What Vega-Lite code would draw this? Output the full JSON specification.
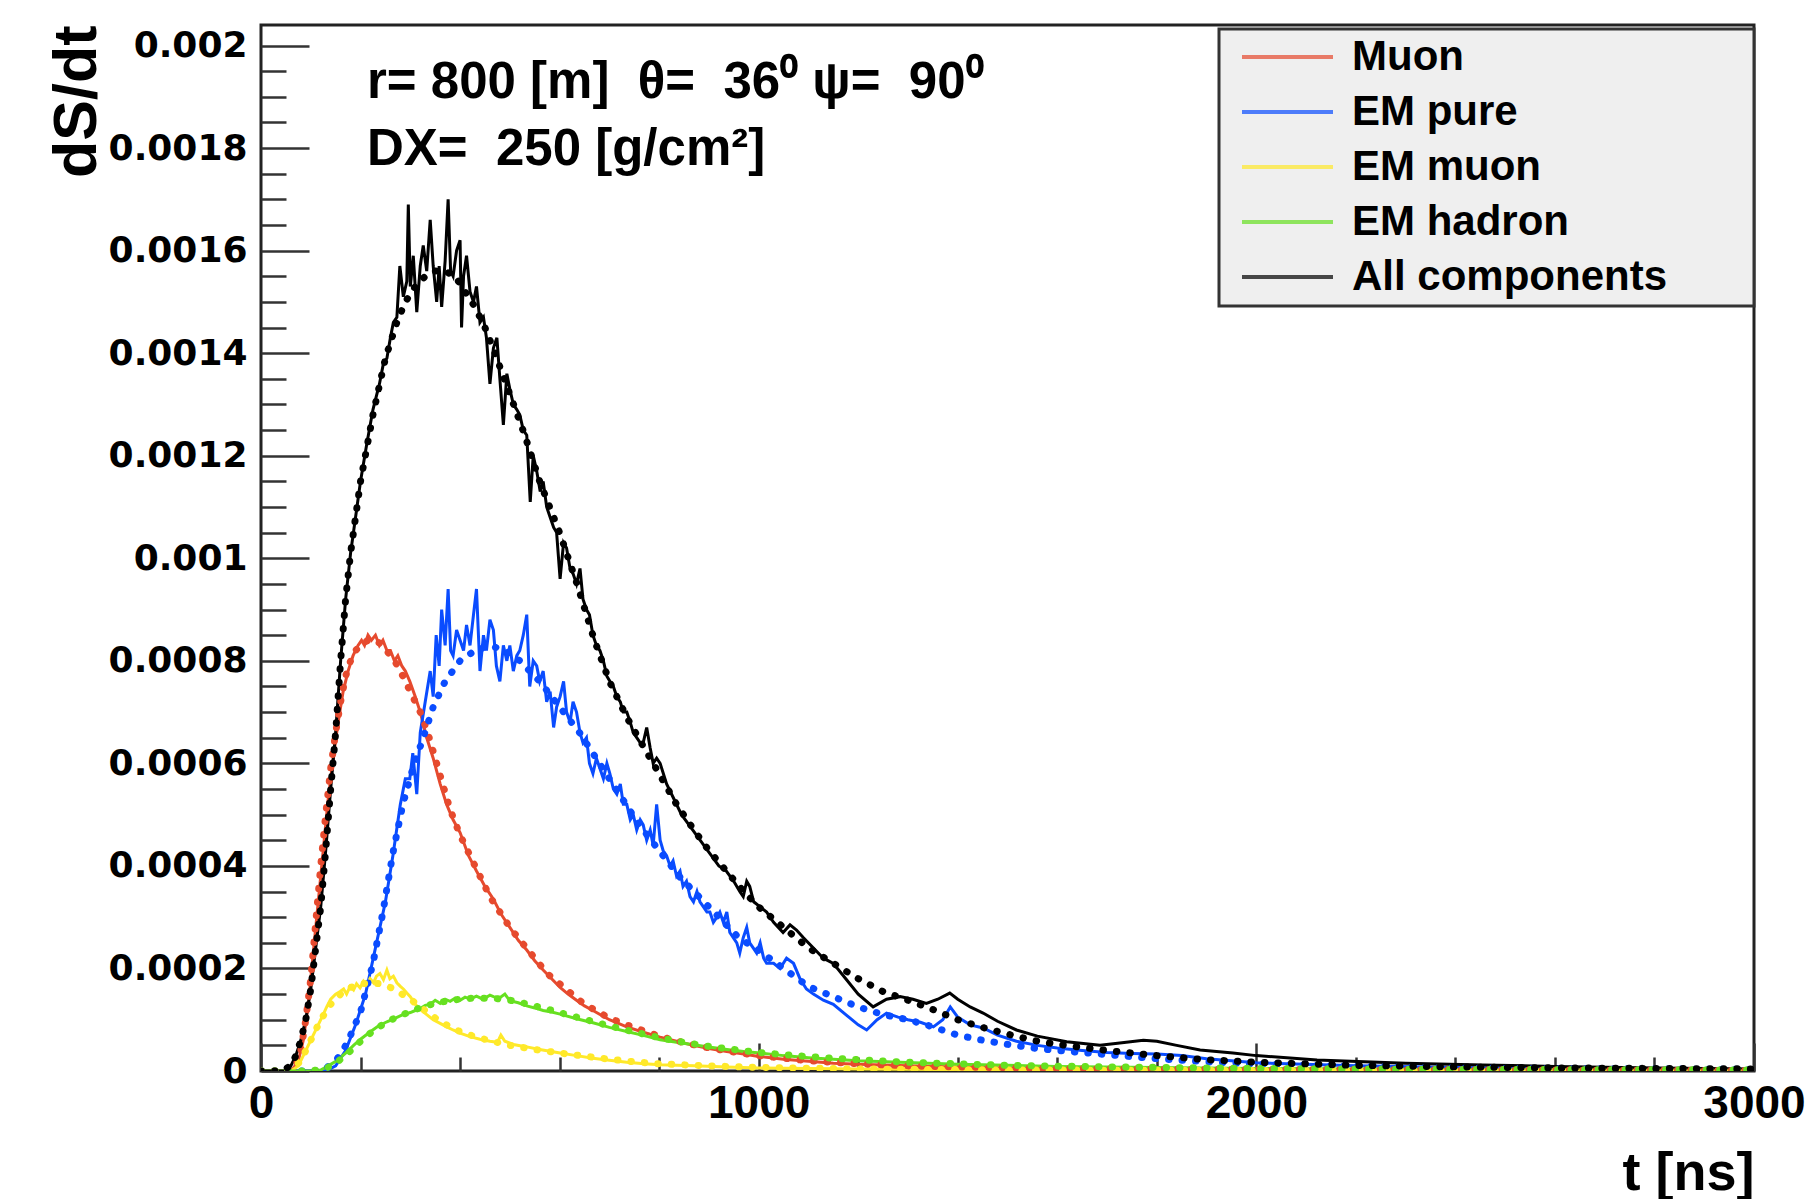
{
"$schema": "https://vega.github.io/schema/vega-lite/v6.json",
"width": 1493, "height": 1046,
"autosize": {"type": "none"},
"padding": {"left": 261, "top": 25, "right": 55, "bottom": 128},
"background": "white",
"config": {
  "view": {"stroke": "#222", "strokeWidth": 3},
  "axis": {"grid": false},
  "legend": {"strokeWidth": 3}
},
"datasets": {
"notes": [
  {"t": 213, "v": 0.0018976, "label": "r= 800 [m] \u00a0θ= \u00a036⁰ ψ= \u00a090⁰"},
  {"t": 213, "v": 0.001767, "label": "DX= \u00a0250 [g/cm²]"}
],
"curves": [
{"comp":"Muon","kind":"sim","t":0,"v":0},{"comp":"Muon","kind":"sim","t":50,"v":0},{"comp":"Muon","kind":"sim","t":65,"v":0.000005},{"comp":"Muon","kind":"sim","t":75,"v":0.00002},{"comp":"Muon","kind":"sim","t":85,"v":0.00006},{"comp":"Muon","kind":"sim","t":95,"v":0.00013},{"comp":"Muon","kind":"sim","t":105,"v":0.00023},{"comp":"Muon","kind":"sim","t":115,"v":0.00033},{"comp":"Muon","kind":"sim","t":125,"v":0.00043},{"comp":"Muon","kind":"sim","t":135,"v":0.00053},{"comp":"Muon","kind":"sim","t":145,"v":0.00061},{"comp":"Muon","kind":"sim","t":155,"v":0.00068},{"comp":"Muon","kind":"sim","t":165,"v":0.00074},{"comp":"Muon","kind":"sim","t":175,"v":0.00078},{"comp":"Muon","kind":"sim","t":185,"v":0.00081},{"comp":"Muon","kind":"sim","t":195,"v":0.00083},{"comp":"Muon","kind":"sim","t":202,"v":0.00084},{"comp":"Muon","kind":"sim","t":208,"v":0.00083},{"comp":"Muon","kind":"sim","t":215,"v":0.00085},{"comp":"Muon","kind":"sim","t":222,"v":0.00084},{"comp":"Muon","kind":"sim","t":230,"v":0.00085},{"comp":"Muon","kind":"sim","t":238,"v":0.00083},{"comp":"Muon","kind":"sim","t":245,"v":0.00084},{"comp":"Muon","kind":"sim","t":253,"v":0.00082},{"comp":"Muon","kind":"sim","t":260,"v":0.00082},{"comp":"Muon","kind":"sim","t":268,"v":0.0008},{"comp":"Muon","kind":"sim","t":275,"v":0.00081},{"comp":"Muon","kind":"sim","t":283,"v":0.00079},{"comp":"Muon","kind":"sim","t":290,"v":0.00078},{"comp":"Muon","kind":"sim","t":299,"v":0.00076},{"comp":"Muon","kind":"sim","t":310,"v":0.00073},{"comp":"Muon","kind":"sim","t":320,"v":0.0007},{"comp":"Muon","kind":"sim","t":333,"v":0.00065},{"comp":"Muon","kind":"sim","t":346,"v":0.00061},{"comp":"Muon","kind":"sim","t":360,"v":0.00056},{"comp":"Muon","kind":"sim","t":373,"v":0.00052},{"comp":"Muon","kind":"sim","t":386,"v":0.00049},{"comp":"Muon","kind":"sim","t":400,"v":0.000465},{"comp":"Muon","kind":"sim","t":417,"v":0.00042},{"comp":"Muon","kind":"sim","t":433,"v":0.00039},{"comp":"Muon","kind":"sim","t":450,"v":0.00036},{"comp":"Muon","kind":"sim","t":467,"v":0.000335},{"comp":"Muon","kind":"sim","t":483,"v":0.000305},{"comp":"Muon","kind":"sim","t":500,"v":0.00028},{"comp":"Muon","kind":"sim","t":517,"v":0.000255},{"comp":"Muon","kind":"sim","t":534,"v":0.000236},{"comp":"Muon","kind":"sim","t":550,"v":0.000215},{"comp":"Muon","kind":"sim","t":567,"v":0.000197},{"comp":"Muon","kind":"sim","t":584,"v":0.00018},{"comp":"Muon","kind":"sim","t":601,"v":0.000163},{"comp":"Muon","kind":"sim","t":617,"v":0.00015},{"comp":"Muon","kind":"sim","t":634,"v":0.000138},{"comp":"Muon","kind":"sim","t":650,"v":0.000127},{"comp":"Muon","kind":"sim","t":667,"v":0.000118},{"comp":"Muon","kind":"sim","t":700,"v":0.0001},{"comp":"Muon","kind":"sim","t":735,"v":0.000086},{"comp":"Muon","kind":"sim","t":770,"v":0.000075},{"comp":"Muon","kind":"sim","t":802,"v":0.000066},{"comp":"Muon","kind":"sim","t":835,"v":0.000058},{"comp":"Muon","kind":"sim","t":869,"v":0.00005},{"comp":"Muon","kind":"sim","t":900,"v":0.000044},{"comp":"Muon","kind":"sim","t":936,"v":0.000038},{"comp":"Muon","kind":"sim","t":970,"v":0.000033},{"comp":"Muon","kind":"sim","t":1003,"v":0.000028},{"comp":"Muon","kind":"sim","t":1050,"v":0.000023},{"comp":"Muon","kind":"sim","t":1100,"v":0.000019},{"comp":"Muon","kind":"sim","t":1150,"v":0.000015},{"comp":"Muon","kind":"sim","t":1200,"v":0.000013},{"comp":"Muon","kind":"sim","t":1300,"v":0.00001},{"comp":"Muon","kind":"sim","t":1400,"v":0.000008},{"comp":"Muon","kind":"sim","t":1500,"v":0.000006},{"comp":"Muon","kind":"sim","t":1700,"v":0.000004},{"comp":"Muon","kind":"sim","t":2000,"v":0.000003},{"comp":"Muon","kind":"sim","t":2500,"v":0.000002},{"comp":"Muon","kind":"sim","t":3000,"v":0.000001},
{"comp":"Muon","kind":"model","t":0,"v":0},{"comp":"Muon","kind":"model","t":60,"v":0},{"comp":"Muon","kind":"model","t":70,"v":0.00001},{"comp":"Muon","kind":"model","t":80,"v":0.00004},{"comp":"Muon","kind":"model","t":90,"v":0.0001},{"comp":"Muon","kind":"model","t":100,"v":0.00018},{"comp":"Muon","kind":"model","t":110,"v":0.00029},{"comp":"Muon","kind":"model","t":120,"v":0.0004},{"comp":"Muon","kind":"model","t":130,"v":0.0005},{"comp":"Muon","kind":"model","t":140,"v":0.00059},{"comp":"Muon","kind":"model","t":150,"v":0.00066},{"comp":"Muon","kind":"model","t":160,"v":0.00072},{"comp":"Muon","kind":"model","t":170,"v":0.00077},{"comp":"Muon","kind":"model","t":180,"v":0.0008},{"comp":"Muon","kind":"model","t":190,"v":0.00082},{"comp":"Muon","kind":"model","t":200,"v":0.00083},{"comp":"Muon","kind":"model","t":215,"v":0.00084},{"comp":"Muon","kind":"model","t":230,"v":0.00084},{"comp":"Muon","kind":"model","t":245,"v":0.00083},{"comp":"Muon","kind":"model","t":260,"v":0.00081},{"comp":"Muon","kind":"model","t":275,"v":0.00079},{"comp":"Muon","kind":"model","t":290,"v":0.00076},{"comp":"Muon","kind":"model","t":305,"v":0.00073},{"comp":"Muon","kind":"model","t":320,"v":0.0007},{"comp":"Muon","kind":"model","t":335,"v":0.00066},{"comp":"Muon","kind":"model","t":350,"v":0.00061},{"comp":"Muon","kind":"model","t":365,"v":0.00056},{"comp":"Muon","kind":"model","t":380,"v":0.00051},{"comp":"Muon","kind":"model","t":400,"v":0.00046},{"comp":"Muon","kind":"model","t":420,"v":0.00042},{"comp":"Muon","kind":"model","t":440,"v":0.00038},{"comp":"Muon","kind":"model","t":460,"v":0.00034},{"comp":"Muon","kind":"model","t":480,"v":0.00031},{"comp":"Muon","kind":"model","t":500,"v":0.00028},{"comp":"Muon","kind":"model","t":525,"v":0.00025},{"comp":"Muon","kind":"model","t":550,"v":0.00022},{"comp":"Muon","kind":"model","t":575,"v":0.00019},{"comp":"Muon","kind":"model","t":600,"v":0.00017},{"comp":"Muon","kind":"model","t":625,"v":0.00015},{"comp":"Muon","kind":"model","t":650,"v":0.00013},{"comp":"Muon","kind":"model","t":675,"v":0.000117},{"comp":"Muon","kind":"model","t":700,"v":0.000103},{"comp":"Muon","kind":"model","t":735,"v":0.00009},{"comp":"Muon","kind":"model","t":770,"v":0.000078},{"comp":"Muon","kind":"model","t":800,"v":0.000068},{"comp":"Muon","kind":"model","t":850,"v":0.000055},{"comp":"Muon","kind":"model","t":900,"v":0.000045},{"comp":"Muon","kind":"model","t":950,"v":0.000037},{"comp":"Muon","kind":"model","t":1000,"v":0.00003},{"comp":"Muon","kind":"model","t":1100,"v":0.00002},{"comp":"Muon","kind":"model","t":1200,"v":0.000014},{"comp":"Muon","kind":"model","t":1300,"v":0.00001},{"comp":"Muon","kind":"model","t":1400,"v":0.000008},{"comp":"Muon","kind":"model","t":1600,"v":0.000005},{"comp":"Muon","kind":"model","t":1800,"v":0.000004},{"comp":"Muon","kind":"model","t":2000,"v":0.000003},{"comp":"Muon","kind":"model","t":2500,"v":0.000002},{"comp":"Muon","kind":"model","t":3000,"v":0.000001},
{"comp":"EM pure","kind":"sim","t":0,"v":0},{"comp":"EM pure","kind":"sim","t":130,"v":0},{"comp":"EM pure","kind":"sim","t":150,"v":0.00001},{"comp":"EM pure","kind":"sim","t":170,"v":0.00004},{"comp":"EM pure","kind":"sim","t":190,"v":0.00009},{"comp":"EM pure","kind":"sim","t":210,"v":0.00015},{"comp":"EM pure","kind":"sim","t":230,"v":0.00024},{"comp":"EM pure","kind":"sim","t":250,"v":0.00033},{"comp":"EM pure","kind":"sim","t":265,"v":0.00042},{"comp":"EM pure","kind":"sim","t":280,"v":0.00052},{"comp":"EM pure","kind":"sim","t":290,"v":0.00057},{"comp":"EM pure","kind":"sim","t":299,"v":0.00057},{"comp":"EM pure","kind":"sim","t":305,"v":0.00062},{"comp":"EM pure","kind":"sim","t":313,"v":0.00054},{"comp":"EM pure","kind":"sim","t":320,"v":0.00066},{"comp":"EM pure","kind":"sim","t":330,"v":0.00072},{"comp":"EM pure","kind":"sim","t":340,"v":0.00078},{"comp":"EM pure","kind":"sim","t":346,"v":0.00073},{"comp":"EM pure","kind":"sim","t":352,"v":0.00085},{"comp":"EM pure","kind":"sim","t":358,"v":0.00079},{"comp":"EM pure","kind":"sim","t":363,"v":0.0009},{"comp":"EM pure","kind":"sim","t":370,"v":0.00083},{"comp":"EM pure","kind":"sim","t":376,"v":0.00094},{"comp":"EM pure","kind":"sim","t":381,"v":0.00082},{"comp":"EM pure","kind":"sim","t":386,"v":0.00081},{"comp":"EM pure","kind":"sim","t":393,"v":0.00086},{"comp":"EM pure","kind":"sim","t":400,"v":0.00084},{"comp":"EM pure","kind":"sim","t":407,"v":0.00082},{"comp":"EM pure","kind":"sim","t":413,"v":0.00087},{"comp":"EM pure","kind":"sim","t":420,"v":0.00083},{"comp":"EM pure","kind":"sim","t":427,"v":0.00089},{"comp":"EM pure","kind":"sim","t":433,"v":0.00094},{"comp":"EM pure","kind":"sim","t":440,"v":0.00078},{"comp":"EM pure","kind":"sim","t":447,"v":0.00085},{"comp":"EM pure","kind":"sim","t":453,"v":0.00082},{"comp":"EM pure","kind":"sim","t":460,"v":0.00088},{"comp":"EM pure","kind":"sim","t":467,"v":0.00086},{"comp":"EM pure","kind":"sim","t":473,"v":0.00079},{"comp":"EM pure","kind":"sim","t":480,"v":0.00076},{"comp":"EM pure","kind":"sim","t":487,"v":0.00083},{"comp":"EM pure","kind":"sim","t":494,"v":0.0008},{"comp":"EM pure","kind":"sim","t":500,"v":0.00083},{"comp":"EM pure","kind":"sim","t":507,"v":0.00078},{"comp":"EM pure","kind":"sim","t":514,"v":0.00081},{"comp":"EM pure","kind":"sim","t":520,"v":0.00082},{"comp":"EM pure","kind":"sim","t":527,"v":0.00085},{"comp":"EM pure","kind":"sim","t":534,"v":0.00089},{"comp":"EM pure","kind":"sim","t":540,"v":0.00075},{"comp":"EM pure","kind":"sim","t":547,"v":0.0008},{"comp":"EM pure","kind":"sim","t":554,"v":0.00079},{"comp":"EM pure","kind":"sim","t":560,"v":0.00076},{"comp":"EM pure","kind":"sim","t":567,"v":0.00078},{"comp":"EM pure","kind":"sim","t":574,"v":0.00072},{"comp":"EM pure","kind":"sim","t":581,"v":0.00074},{"comp":"EM pure","kind":"sim","t":588,"v":0.00067},{"comp":"EM pure","kind":"sim","t":594,"v":0.00071},{"comp":"EM pure","kind":"sim","t":601,"v":0.00073},{"comp":"EM pure","kind":"sim","t":608,"v":0.00076},{"comp":"EM pure","kind":"sim","t":614,"v":0.0007},{"comp":"EM pure","kind":"sim","t":621,"v":0.00068},{"comp":"EM pure","kind":"sim","t":627,"v":0.00072},{"comp":"EM pure","kind":"sim","t":634,"v":0.0007},{"comp":"EM pure","kind":"sim","t":641,"v":0.00066},{"comp":"EM pure","kind":"sim","t":647,"v":0.00064},{"comp":"EM pure","kind":"sim","t":654,"v":0.00065},{"comp":"EM pure","kind":"sim","t":660,"v":0.0006},{"comp":"EM pure","kind":"sim","t":667,"v":0.00058},{"comp":"EM pure","kind":"sim","t":674,"v":0.00061},{"comp":"EM pure","kind":"sim","t":681,"v":0.00059},{"comp":"EM pure","kind":"sim","t":688,"v":0.00057},{"comp":"EM pure","kind":"sim","t":695,"v":0.0006},{"comp":"EM pure","kind":"sim","t":701,"v":0.00058},{"comp":"EM pure","kind":"sim","t":708,"v":0.00055},{"comp":"EM pure","kind":"sim","t":715,"v":0.00054},{"comp":"EM pure","kind":"sim","t":722,"v":0.00056},{"comp":"EM pure","kind":"sim","t":728,"v":0.00052},{"comp":"EM pure","kind":"sim","t":735,"v":0.00052},{"comp":"EM pure","kind":"sim","t":742,"v":0.00049},{"comp":"EM pure","kind":"sim","t":748,"v":0.0005},{"comp":"EM pure","kind":"sim","t":755,"v":0.00047},{"comp":"EM pure","kind":"sim","t":762,"v":0.00049},{"comp":"EM pure","kind":"sim","t":768,"v":0.00048},{"comp":"EM pure","kind":"sim","t":775,"v":0.00045},{"comp":"EM pure","kind":"sim","t":782,"v":0.00047},{"comp":"EM pure","kind":"sim","t":788,"v":0.00044},{"comp":"EM pure","kind":"sim","t":795,"v":0.00052},{"comp":"EM pure","kind":"sim","t":802,"v":0.00045},{"comp":"EM pure","kind":"sim","t":808,"v":0.00043},{"comp":"EM pure","kind":"sim","t":815,"v":0.00042},{"comp":"EM pure","kind":"sim","t":822,"v":0.0004},{"comp":"EM pure","kind":"sim","t":828,"v":0.00041},{"comp":"EM pure","kind":"sim","t":835,"v":0.00038},{"comp":"EM pure","kind":"sim","t":842,"v":0.00039},{"comp":"EM pure","kind":"sim","t":848,"v":0.00036},{"comp":"EM pure","kind":"sim","t":855,"v":0.00037},{"comp":"EM pure","kind":"sim","t":862,"v":0.00034},{"comp":"EM pure","kind":"sim","t":869,"v":0.00033},{"comp":"EM pure","kind":"sim","t":876,"v":0.00035},{"comp":"EM pure","kind":"sim","t":882,"v":0.00033},{"comp":"EM pure","kind":"sim","t":889,"v":0.00032},{"comp":"EM pure","kind":"sim","t":896,"v":0.00031},{"comp":"EM pure","kind":"sim","t":902,"v":0.00031},{"comp":"EM pure","kind":"sim","t":909,"v":0.00029},{"comp":"EM pure","kind":"sim","t":916,"v":0.0003},{"comp":"EM pure","kind":"sim","t":922,"v":0.00031},{"comp":"EM pure","kind":"sim","t":929,"v":0.00029},{"comp":"EM pure","kind":"sim","t":936,"v":0.00031},{"comp":"EM pure","kind":"sim","t":942,"v":0.00027},{"comp":"EM pure","kind":"sim","t":949,"v":0.00026},{"comp":"EM pure","kind":"sim","t":956,"v":0.00025},{"comp":"EM pure","kind":"sim","t":962,"v":0.00023},{"comp":"EM pure","kind":"sim","t":969,"v":0.00026},{"comp":"EM pure","kind":"sim","t":976,"v":0.00028},{"comp":"EM pure","kind":"sim","t":982,"v":0.00025},{"comp":"EM pure","kind":"sim","t":989,"v":0.00024},{"comp":"EM pure","kind":"sim","t":996,"v":0.00023},{"comp":"EM pure","kind":"sim","t":1003,"v":0.00025},{"comp":"EM pure","kind":"sim","t":1010,"v":0.00022},{"comp":"EM pure","kind":"sim","t":1016,"v":0.00021},{"comp":"EM pure","kind":"sim","t":1030,"v":0.00021},{"comp":"EM pure","kind":"sim","t":1043,"v":0.0002},{"comp":"EM pure","kind":"sim","t":1056,"v":0.00022},{"comp":"EM pure","kind":"sim","t":1070,"v":0.00021},{"comp":"EM pure","kind":"sim","t":1083,"v":0.00018},{"comp":"EM pure","kind":"sim","t":1096,"v":0.00016},{"comp":"EM pure","kind":"sim","t":1110,"v":0.00015},{"comp":"EM pure","kind":"sim","t":1130,"v":0.000138},{"comp":"EM pure","kind":"sim","t":1150,"v":0.00013},{"comp":"EM pure","kind":"sim","t":1175,"v":0.00011},{"comp":"EM pure","kind":"sim","t":1200,"v":0.00009},{"comp":"EM pure","kind":"sim","t":1217,"v":0.00008},{"comp":"EM pure","kind":"sim","t":1238,"v":0.0001},{"comp":"EM pure","kind":"sim","t":1257,"v":0.000113},{"comp":"EM pure","kind":"sim","t":1280,"v":0.000105},{"comp":"EM pure","kind":"sim","t":1300,"v":0.0001},{"comp":"EM pure","kind":"sim","t":1325,"v":0.000095},{"comp":"EM pure","kind":"sim","t":1351,"v":0.000086},{"comp":"EM pure","kind":"sim","t":1370,"v":0.0001},{"comp":"EM pure","kind":"sim","t":1385,"v":0.000125},{"comp":"EM pure","kind":"sim","t":1400,"v":0.000105},{"comp":"EM pure","kind":"sim","t":1425,"v":0.00009},{"comp":"EM pure","kind":"sim","t":1451,"v":0.000084},{"comp":"EM pure","kind":"sim","t":1480,"v":0.00007},{"comp":"EM pure","kind":"sim","t":1518,"v":0.000058},{"comp":"EM pure","kind":"sim","t":1560,"v":0.00005},{"comp":"EM pure","kind":"sim","t":1600,"v":0.000045},{"comp":"EM pure","kind":"sim","t":1650,"v":0.00004},{"comp":"EM pure","kind":"sim","t":1700,"v":0.000036},{"comp":"EM pure","kind":"sim","t":1750,"v":0.000034},{"comp":"EM pure","kind":"sim","t":1800,"v":0.000033},{"comp":"EM pure","kind":"sim","t":1850,"v":0.00003},{"comp":"EM pure","kind":"sim","t":1900,"v":0.000024},{"comp":"EM pure","kind":"sim","t":2000,"v":0.000016},{"comp":"EM pure","kind":"sim","t":2200,"v":0.00001},{"comp":"EM pure","kind":"sim","t":2400,"v":0.000007},{"comp":"EM pure","kind":"sim","t":2600,"v":0.000005},{"comp":"EM pure","kind":"sim","t":2800,"v":0.000004},{"comp":"EM pure","kind":"sim","t":3000,"v":0.000003},
{"comp":"EM pure","kind":"model","t":0,"v":0},{"comp":"EM pure","kind":"model","t":110,"v":0},{"comp":"EM pure","kind":"model","t":130,"v":0.000005},{"comp":"EM pure","kind":"model","t":150,"v":0.00002},{"comp":"EM pure","kind":"model","t":165,"v":0.00004},{"comp":"EM pure","kind":"model","t":180,"v":0.00007},{"comp":"EM pure","kind":"model","t":200,"v":0.000115},{"comp":"EM pure","kind":"model","t":225,"v":0.00021},{"comp":"EM pure","kind":"model","t":245,"v":0.00031},{"comp":"EM pure","kind":"model","t":265,"v":0.000425},{"comp":"EM pure","kind":"model","t":285,"v":0.00052},{"comp":"EM pure","kind":"model","t":305,"v":0.00059},{"comp":"EM pure","kind":"model","t":326,"v":0.00065},{"comp":"EM pure","kind":"model","t":346,"v":0.00071},{"comp":"EM pure","kind":"model","t":370,"v":0.00076},{"comp":"EM pure","kind":"model","t":400,"v":0.0008},{"comp":"EM pure","kind":"model","t":430,"v":0.00082},{"comp":"EM pure","kind":"model","t":460,"v":0.00083},{"comp":"EM pure","kind":"model","t":490,"v":0.00082},{"comp":"EM pure","kind":"model","t":520,"v":0.0008},{"comp":"EM pure","kind":"model","t":560,"v":0.00076},{"comp":"EM pure","kind":"model","t":600,"v":0.00071},{"comp":"EM pure","kind":"model","t":640,"v":0.00066},{"comp":"EM pure","kind":"model","t":680,"v":0.0006},{"comp":"EM pure","kind":"model","t":720,"v":0.00054},{"comp":"EM pure","kind":"model","t":760,"v":0.00048},{"comp":"EM pure","kind":"model","t":800,"v":0.00043},{"comp":"EM pure","kind":"model","t":840,"v":0.00038},{"comp":"EM pure","kind":"model","t":880,"v":0.00034},{"comp":"EM pure","kind":"model","t":920,"v":0.0003},{"comp":"EM pure","kind":"model","t":960,"v":0.00026},{"comp":"EM pure","kind":"model","t":1000,"v":0.000235},{"comp":"EM pure","kind":"model","t":1050,"v":0.0002},{"comp":"EM pure","kind":"model","t":1100,"v":0.000165},{"comp":"EM pure","kind":"model","t":1150,"v":0.000145},{"comp":"EM pure","kind":"model","t":1200,"v":0.000125},{"comp":"EM pure","kind":"model","t":1250,"v":0.00011},{"comp":"EM pure","kind":"model","t":1300,"v":0.0001},{"comp":"EM pure","kind":"model","t":1350,"v":0.000086},{"comp":"EM pure","kind":"model","t":1400,"v":0.00007},{"comp":"EM pure","kind":"model","t":1450,"v":0.00006},{"comp":"EM pure","kind":"model","t":1500,"v":0.000052},{"comp":"EM pure","kind":"model","t":1550,"v":0.000045},{"comp":"EM pure","kind":"model","t":1600,"v":0.00004},{"comp":"EM pure","kind":"model","t":1700,"v":0.000032},{"comp":"EM pure","kind":"model","t":1800,"v":0.000024},{"comp":"EM pure","kind":"model","t":1900,"v":0.000018},{"comp":"EM pure","kind":"model","t":2000,"v":0.000014},{"comp":"EM pure","kind":"model","t":2200,"v":0.000009},{"comp":"EM pure","kind":"model","t":2400,"v":0.000006},{"comp":"EM pure","kind":"model","t":2600,"v":0.000005},{"comp":"EM pure","kind":"model","t":2800,"v":0.000004},{"comp":"EM pure","kind":"model","t":3000,"v":0.000003},
{"comp":"EM muon","kind":"sim","t":0,"v":0},{"comp":"EM muon","kind":"sim","t":60,"v":0},{"comp":"EM muon","kind":"sim","t":75,"v":0.00001},{"comp":"EM muon","kind":"sim","t":85,"v":0.00003},{"comp":"EM muon","kind":"sim","t":95,"v":0.00005},{"comp":"EM muon","kind":"sim","t":105,"v":0.00007},{"comp":"EM muon","kind":"sim","t":115,"v":0.00009},{"comp":"EM muon","kind":"sim","t":125,"v":0.00011},{"comp":"EM muon","kind":"sim","t":132,"v":0.000125},{"comp":"EM muon","kind":"sim","t":140,"v":0.00014},{"comp":"EM muon","kind":"sim","t":150,"v":0.00015},{"comp":"EM muon","kind":"sim","t":159,"v":0.000155},{"comp":"EM muon","kind":"sim","t":166,"v":0.00016},{"comp":"EM muon","kind":"sim","t":172,"v":0.00015},{"comp":"EM muon","kind":"sim","t":179,"v":0.000165},{"comp":"EM muon","kind":"sim","t":186,"v":0.000158},{"comp":"EM muon","kind":"sim","t":192,"v":0.00017},{"comp":"EM muon","kind":"sim","t":199,"v":0.000162},{"comp":"EM muon","kind":"sim","t":206,"v":0.000175},{"comp":"EM muon","kind":"sim","t":212,"v":0.000168},{"comp":"EM muon","kind":"sim","t":219,"v":0.00018},{"comp":"EM muon","kind":"sim","t":226,"v":0.000172},{"comp":"EM muon","kind":"sim","t":232,"v":0.000185},{"comp":"EM muon","kind":"sim","t":239,"v":0.00019},{"comp":"EM muon","kind":"sim","t":246,"v":0.000178},{"comp":"EM muon","kind":"sim","t":253,"v":0.000197},{"comp":"EM muon","kind":"sim","t":259,"v":0.00018},{"comp":"EM muon","kind":"sim","t":266,"v":0.000185},{"comp":"EM muon","kind":"sim","t":273,"v":0.000172},{"comp":"EM muon","kind":"sim","t":280,"v":0.000165},{"comp":"EM muon","kind":"sim","t":286,"v":0.00016},{"comp":"EM muon","kind":"sim","t":293,"v":0.000152},{"comp":"EM muon","kind":"sim","t":300,"v":0.000145},{"comp":"EM muon","kind":"sim","t":310,"v":0.00013},{"comp":"EM muon","kind":"sim","t":320,"v":0.00012},{"comp":"EM muon","kind":"sim","t":333,"v":0.00011},{"comp":"EM muon","kind":"sim","t":346,"v":0.0001},{"comp":"EM muon","kind":"sim","t":360,"v":0.000093},{"comp":"EM muon","kind":"sim","t":373,"v":0.000086},{"comp":"EM muon","kind":"sim","t":386,"v":0.00008},{"comp":"EM muon","kind":"sim","t":400,"v":0.000074},{"comp":"EM muon","kind":"sim","t":420,"v":0.000067},{"comp":"EM muon","kind":"sim","t":440,"v":0.000062},{"comp":"EM muon","kind":"sim","t":460,"v":0.000058},{"comp":"EM muon","kind":"sim","t":475,"v":0.000056},{"comp":"EM muon","kind":"sim","t":482,"v":0.00007},{"comp":"EM muon","kind":"sim","t":490,"v":0.000058},{"comp":"EM muon","kind":"sim","t":510,"v":0.000051},{"comp":"EM muon","kind":"sim","t":534,"v":0.000047},{"comp":"EM muon","kind":"sim","t":560,"v":0.000042},{"comp":"EM muon","kind":"sim","t":601,"v":0.000035},{"comp":"EM muon","kind":"sim","t":634,"v":0.00003},{"comp":"EM muon","kind":"sim","t":667,"v":0.000025},{"comp":"EM muon","kind":"sim","t":700,"v":0.000021},{"comp":"EM muon","kind":"sim","t":735,"v":0.000017},{"comp":"EM muon","kind":"sim","t":770,"v":0.000014},{"comp":"EM muon","kind":"sim","t":802,"v":0.000012},{"comp":"EM muon","kind":"sim","t":870,"v":0.00001},{"comp":"EM muon","kind":"sim","t":936,"v":0.000008},{"comp":"EM muon","kind":"sim","t":1000,"v":0.000006},{"comp":"EM muon","kind":"sim","t":1200,"v":0.000004},{"comp":"EM muon","kind":"sim","t":1500,"v":0.000002},{"comp":"EM muon","kind":"sim","t":2000,"v":0.000001},{"comp":"EM muon","kind":"sim","t":3000,"v":0},
{"comp":"EM muon","kind":"model","t":0,"v":0},{"comp":"EM muon","kind":"model","t":60,"v":0},{"comp":"EM muon","kind":"model","t":80,"v":0.00002},{"comp":"EM muon","kind":"model","t":100,"v":0.00006},{"comp":"EM muon","kind":"model","t":120,"v":0.0001},{"comp":"EM muon","kind":"model","t":140,"v":0.00013},{"comp":"EM muon","kind":"model","t":160,"v":0.00015},{"comp":"EM muon","kind":"model","t":180,"v":0.000163},{"comp":"EM muon","kind":"model","t":200,"v":0.00017},{"comp":"EM muon","kind":"model","t":220,"v":0.000172},{"comp":"EM muon","kind":"model","t":240,"v":0.00017},{"comp":"EM muon","kind":"model","t":260,"v":0.000163},{"comp":"EM muon","kind":"model","t":280,"v":0.000152},{"comp":"EM muon","kind":"model","t":300,"v":0.00014},{"comp":"EM muon","kind":"model","t":320,"v":0.000125},{"comp":"EM muon","kind":"model","t":340,"v":0.00011},{"comp":"EM muon","kind":"model","t":360,"v":0.000097},{"comp":"EM muon","kind":"model","t":380,"v":0.000086},{"comp":"EM muon","kind":"model","t":400,"v":0.000077},{"comp":"EM muon","kind":"model","t":430,"v":0.000067},{"comp":"EM muon","kind":"model","t":460,"v":0.000059},{"comp":"EM muon","kind":"model","t":500,"v":0.00005},{"comp":"EM muon","kind":"model","t":550,"v":0.000042},{"comp":"EM muon","kind":"model","t":600,"v":0.000035},{"comp":"EM muon","kind":"model","t":650,"v":0.000029},{"comp":"EM muon","kind":"model","t":700,"v":0.000023},{"comp":"EM muon","kind":"model","t":750,"v":0.000018},{"comp":"EM muon","kind":"model","t":800,"v":0.000014},{"comp":"EM muon","kind":"model","t":900,"v":0.00001},{"comp":"EM muon","kind":"model","t":1000,"v":0.000007},{"comp":"EM muon","kind":"model","t":1200,"v":0.000004},{"comp":"EM muon","kind":"model","t":1500,"v":0.000002},{"comp":"EM muon","kind":"model","t":2000,"v":0.000001},{"comp":"EM muon","kind":"model","t":3000,"v":0},
{"comp":"EM hadron","kind":"sim","t":0,"v":0},{"comp":"EM hadron","kind":"sim","t":100,"v":0},{"comp":"EM hadron","kind":"sim","t":120,"v":0.000002},{"comp":"EM hadron","kind":"sim","t":135,"v":0.00001},{"comp":"EM hadron","kind":"sim","t":152,"v":0.00002},{"comp":"EM hadron","kind":"sim","t":170,"v":0.000035},{"comp":"EM hadron","kind":"sim","t":186,"v":0.00005},{"comp":"EM hadron","kind":"sim","t":200,"v":0.000062},{"comp":"EM hadron","kind":"sim","t":219,"v":0.000076},{"comp":"EM hadron","kind":"sim","t":235,"v":0.000087},{"comp":"EM hadron","kind":"sim","t":253,"v":0.000096},{"comp":"EM hadron","kind":"sim","t":270,"v":0.000103},{"comp":"EM hadron","kind":"sim","t":285,"v":0.00011},{"comp":"EM hadron","kind":"sim","t":300,"v":0.000114},{"comp":"EM hadron","kind":"sim","t":310,"v":0.000118},{"comp":"EM hadron","kind":"sim","t":320,"v":0.000122},{"comp":"EM hadron","kind":"sim","t":330,"v":0.000128},{"comp":"EM hadron","kind":"sim","t":340,"v":0.00013},{"comp":"EM hadron","kind":"sim","t":350,"v":0.000138},{"comp":"EM hadron","kind":"sim","t":360,"v":0.000132},{"comp":"EM hadron","kind":"sim","t":370,"v":0.00014},{"comp":"EM hadron","kind":"sim","t":380,"v":0.000136},{"comp":"EM hadron","kind":"sim","t":390,"v":0.000142},{"comp":"EM hadron","kind":"sim","t":400,"v":0.000138},{"comp":"EM hadron","kind":"sim","t":410,"v":0.000144},{"comp":"EM hadron","kind":"sim","t":420,"v":0.00014},{"comp":"EM hadron","kind":"sim","t":433,"v":0.000146},{"comp":"EM hadron","kind":"sim","t":446,"v":0.00014},{"comp":"EM hadron","kind":"sim","t":460,"v":0.000148},{"comp":"EM hadron","kind":"sim","t":467,"v":0.000145},{"comp":"EM hadron","kind":"sim","t":480,"v":0.000143},{"comp":"EM hadron","kind":"sim","t":490,"v":0.00015},{"comp":"EM hadron","kind":"sim","t":500,"v":0.000137},{"comp":"EM hadron","kind":"sim","t":517,"v":0.000133},{"comp":"EM hadron","kind":"sim","t":534,"v":0.000127},{"comp":"EM hadron","kind":"sim","t":550,"v":0.000123},{"comp":"EM hadron","kind":"sim","t":567,"v":0.000118},{"comp":"EM hadron","kind":"sim","t":584,"v":0.000115},{"comp":"EM hadron","kind":"sim","t":601,"v":0.000111},{"comp":"EM hadron","kind":"sim","t":634,"v":0.000102},{"comp":"EM hadron","kind":"sim","t":667,"v":0.000094},{"comp":"EM hadron","kind":"sim","t":700,"v":0.000085},{"comp":"EM hadron","kind":"sim","t":735,"v":0.000077},{"comp":"EM hadron","kind":"sim","t":770,"v":0.000069},{"comp":"EM hadron","kind":"sim","t":802,"v":0.000061},{"comp":"EM hadron","kind":"sim","t":835,"v":0.000056},{"comp":"EM hadron","kind":"sim","t":869,"v":0.000051},{"comp":"EM hadron","kind":"sim","t":900,"v":0.000047},{"comp":"EM hadron","kind":"sim","t":936,"v":0.000042},{"comp":"EM hadron","kind":"sim","t":970,"v":0.000038},{"comp":"EM hadron","kind":"sim","t":1003,"v":0.000035},{"comp":"EM hadron","kind":"sim","t":1050,"v":0.00003},{"comp":"EM hadron","kind":"sim","t":1100,"v":0.000026},{"comp":"EM hadron","kind":"sim","t":1150,"v":0.000023},{"comp":"EM hadron","kind":"sim","t":1200,"v":0.00002},{"comp":"EM hadron","kind":"sim","t":1284,"v":0.000017},{"comp":"EM hadron","kind":"sim","t":1400,"v":0.000013},{"comp":"EM hadron","kind":"sim","t":1500,"v":0.000011},{"comp":"EM hadron","kind":"sim","t":1600,"v":0.000009},{"comp":"EM hadron","kind":"sim","t":1800,"v":0.000007},{"comp":"EM hadron","kind":"sim","t":2000,"v":0.000005},{"comp":"EM hadron","kind":"sim","t":2400,"v":0.000003},{"comp":"EM hadron","kind":"sim","t":3000,"v":0.000002},
{"comp":"EM hadron","kind":"model","t":0,"v":0},{"comp":"EM hadron","kind":"model","t":100,"v":0},{"comp":"EM hadron","kind":"model","t":130,"v":0.000005},{"comp":"EM hadron","kind":"model","t":150,"v":0.000015},{"comp":"EM hadron","kind":"model","t":175,"v":0.000035},{"comp":"EM hadron","kind":"model","t":200,"v":0.000058},{"comp":"EM hadron","kind":"model","t":225,"v":0.000078},{"comp":"EM hadron","kind":"model","t":250,"v":0.000094},{"comp":"EM hadron","kind":"model","t":275,"v":0.000106},{"comp":"EM hadron","kind":"model","t":300,"v":0.000116},{"comp":"EM hadron","kind":"model","t":325,"v":0.000125},{"comp":"EM hadron","kind":"model","t":350,"v":0.000132},{"comp":"EM hadron","kind":"model","t":375,"v":0.000137},{"comp":"EM hadron","kind":"model","t":400,"v":0.00014},{"comp":"EM hadron","kind":"model","t":425,"v":0.000142},{"comp":"EM hadron","kind":"model","t":450,"v":0.000142},{"comp":"EM hadron","kind":"model","t":475,"v":0.000141},{"comp":"EM hadron","kind":"model","t":500,"v":0.000138},{"comp":"EM hadron","kind":"model","t":525,"v":0.000133},{"comp":"EM hadron","kind":"model","t":550,"v":0.000127},{"comp":"EM hadron","kind":"model","t":575,"v":0.000121},{"comp":"EM hadron","kind":"model","t":600,"v":0.000114},{"comp":"EM hadron","kind":"model","t":650,"v":0.000101},{"comp":"EM hadron","kind":"model","t":700,"v":0.000088},{"comp":"EM hadron","kind":"model","t":750,"v":0.000076},{"comp":"EM hadron","kind":"model","t":800,"v":0.000065},{"comp":"EM hadron","kind":"model","t":850,"v":0.000056},{"comp":"EM hadron","kind":"model","t":900,"v":0.000048},{"comp":"EM hadron","kind":"model","t":950,"v":0.000042},{"comp":"EM hadron","kind":"model","t":1000,"v":0.000036},{"comp":"EM hadron","kind":"model","t":1100,"v":0.000028},{"comp":"EM hadron","kind":"model","t":1200,"v":0.000022},{"comp":"EM hadron","kind":"model","t":1300,"v":0.000017},{"comp":"EM hadron","kind":"model","t":1400,"v":0.000014},{"comp":"EM hadron","kind":"model","t":1500,"v":0.000011},{"comp":"EM hadron","kind":"model","t":1700,"v":0.000008},{"comp":"EM hadron","kind":"model","t":2000,"v":0.000005},{"comp":"EM hadron","kind":"model","t":2400,"v":0.000003},{"comp":"EM hadron","kind":"model","t":3000,"v":0.000002},
{"comp":"All components","kind":"sim","t":0,"v":0},{"comp":"All components","kind":"sim","t":50,"v":0},{"comp":"All components","kind":"sim","t":60,"v":0.00001},{"comp":"All components","kind":"sim","t":70,"v":0.00003},{"comp":"All components","kind":"sim","t":80,"v":0.00006},{"comp":"All components","kind":"sim","t":90,"v":0.0001},{"comp":"All components","kind":"sim","t":100,"v":0.00016},{"comp":"All components","kind":"sim","t":110,"v":0.00024},{"comp":"All components","kind":"sim","t":120,"v":0.00032},{"comp":"All components","kind":"sim","t":130,"v":0.00043},{"comp":"All components","kind":"sim","t":140,"v":0.00055},{"comp":"All components","kind":"sim","t":150,"v":0.00066},{"comp":"All components","kind":"sim","t":160,"v":0.0008},{"comp":"All components","kind":"sim","t":170,"v":0.00092},{"comp":"All components","kind":"sim","t":180,"v":0.00101},{"comp":"All components","kind":"sim","t":190,"v":0.00108},{"comp":"All components","kind":"sim","t":200,"v":0.00115},{"comp":"All components","kind":"sim","t":212,"v":0.00122},{"comp":"All components","kind":"sim","t":225,"v":0.00129},{"comp":"All components","kind":"sim","t":238,"v":0.00134},{"comp":"All components","kind":"sim","t":246,"v":0.00138},{"comp":"All components","kind":"sim","t":253,"v":0.00139},{"comp":"All components","kind":"sim","t":260,"v":0.00143},{"comp":"All components","kind":"sim","t":266,"v":0.00146},{"comp":"All components","kind":"sim","t":273,"v":0.00147},{"comp":"All components","kind":"sim","t":279,"v":0.00157},{"comp":"All components","kind":"sim","t":286,"v":0.00151},{"comp":"All components","kind":"sim","t":293,"v":0.00154},{"comp":"All components","kind":"sim","t":296,"v":0.00169},{"comp":"All components","kind":"sim","t":300,"v":0.00153},{"comp":"All components","kind":"sim","t":306,"v":0.00159},{"comp":"All components","kind":"sim","t":313,"v":0.00148},{"comp":"All components","kind":"sim","t":320,"v":0.00157},{"comp":"All components","kind":"sim","t":326,"v":0.00161},{"comp":"All components","kind":"sim","t":333,"v":0.00156},{"comp":"All components","kind":"sim","t":340,"v":0.00166},{"comp":"All components","kind":"sim","t":346,"v":0.00157},{"comp":"All components","kind":"sim","t":353,"v":0.0015},{"comp":"All components","kind":"sim","t":358,"v":0.00157},{"comp":"All components","kind":"sim","t":363,"v":0.00149},{"comp":"All components","kind":"sim","t":370,"v":0.00158},{"comp":"All components","kind":"sim","t":376,"v":0.0017},{"comp":"All components","kind":"sim","t":381,"v":0.00156},{"comp":"All components","kind":"sim","t":386,"v":0.00155},{"comp":"All components","kind":"sim","t":393,"v":0.0016},{"comp":"All components","kind":"sim","t":400,"v":0.00162},{"comp":"All components","kind":"sim","t":403,"v":0.00145},{"comp":"All components","kind":"sim","t":407,"v":0.00155},{"comp":"All components","kind":"sim","t":413,"v":0.00159},{"comp":"All components","kind":"sim","t":420,"v":0.00152},{"comp":"All components","kind":"sim","t":427,"v":0.0015},{"comp":"All components","kind":"sim","t":433,"v":0.00153},{"comp":"All components","kind":"sim","t":440,"v":0.00146},{"comp":"All components","kind":"sim","t":447,"v":0.00147},{"comp":"All components","kind":"sim","t":453,"v":0.00143},{"comp":"All components","kind":"sim","t":460,"v":0.00134},{"comp":"All components","kind":"sim","t":467,"v":0.00141},{"comp":"All components","kind":"sim","t":474,"v":0.00143},{"comp":"All components","kind":"sim","t":480,"v":0.00135},{"comp":"All components","kind":"sim","t":487,"v":0.00126},{"comp":"All components","kind":"sim","t":494,"v":0.00136},{"comp":"All components","kind":"sim","t":500,"v":0.00133},{"comp":"All components","kind":"sim","t":507,"v":0.0013},{"comp":"All components","kind":"sim","t":514,"v":0.00129},{"comp":"All components","kind":"sim","t":520,"v":0.00128},{"comp":"All components","kind":"sim","t":527,"v":0.00125},{"comp":"All components","kind":"sim","t":534,"v":0.00124},{"comp":"All components","kind":"sim","t":541,"v":0.00111},{"comp":"All components","kind":"sim","t":547,"v":0.0012},{"comp":"All components","kind":"sim","t":554,"v":0.00117},{"comp":"All components","kind":"sim","t":561,"v":0.00113},{"comp":"All components","kind":"sim","t":567,"v":0.00115},{"comp":"All components","kind":"sim","t":574,"v":0.0011},{"comp":"All components","kind":"sim","t":581,"v":0.00108},{"comp":"All components","kind":"sim","t":588,"v":0.00106},{"comp":"All components","kind":"sim","t":594,"v":0.00105},{"comp":"All components","kind":"sim","t":601,"v":0.00096},{"comp":"All components","kind":"sim","t":608,"v":0.00103},{"comp":"All components","kind":"sim","t":614,"v":0.00102},{"comp":"All components","kind":"sim","t":621,"v":0.00098},{"comp":"All components","kind":"sim","t":627,"v":0.00097},{"comp":"All components","kind":"sim","t":634,"v":0.00095},{"comp":"All components","kind":"sim","t":641,"v":0.00098},{"comp":"All components","kind":"sim","t":647,"v":0.00092},{"comp":"All components","kind":"sim","t":654,"v":0.0009},{"comp":"All components","kind":"sim","t":660,"v":0.00089},{"comp":"All components","kind":"sim","t":667,"v":0.00085},{"comp":"All components","kind":"sim","t":674,"v":0.00083},{"comp":"All components","kind":"sim","t":681,"v":0.00082},{"comp":"All components","kind":"sim","t":688,"v":0.0008},{"comp":"All components","kind":"sim","t":695,"v":0.00077},{"comp":"All components","kind":"sim","t":701,"v":0.00076},{"comp":"All components","kind":"sim","t":708,"v":0.00075},{"comp":"All components","kind":"sim","t":715,"v":0.00073},{"comp":"All components","kind":"sim","t":722,"v":0.00072},{"comp":"All components","kind":"sim","t":728,"v":0.0007},{"comp":"All components","kind":"sim","t":735,"v":0.0007},{"comp":"All components","kind":"sim","t":742,"v":0.00068},{"comp":"All components","kind":"sim","t":748,"v":0.00066},{"comp":"All components","kind":"sim","t":755,"v":0.00065},{"comp":"All components","kind":"sim","t":762,"v":0.00064},{"comp":"All components","kind":"sim","t":768,"v":0.00064},{"comp":"All components","kind":"sim","t":775,"v":0.00067},{"comp":"All components","kind":"sim","t":782,"v":0.00063},{"comp":"All components","kind":"sim","t":788,"v":0.0006},{"comp":"All components","kind":"sim","t":795,"v":0.00061},{"comp":"All components","kind":"sim","t":802,"v":0.0006},{"comp":"All components","kind":"sim","t":815,"v":0.00056},{"comp":"All components","kind":"sim","t":830,"v":0.00053},{"comp":"All components","kind":"sim","t":845,"v":0.0005},{"comp":"All components","kind":"sim","t":860,"v":0.00048},{"comp":"All components","kind":"sim","t":875,"v":0.00046},{"comp":"All components","kind":"sim","t":890,"v":0.00044},{"comp":"All components","kind":"sim","t":905,"v":0.00042},{"comp":"All components","kind":"sim","t":920,"v":0.0004},{"comp":"All components","kind":"sim","t":935,"v":0.00039},{"comp":"All components","kind":"sim","t":950,"v":0.00037},{"comp":"All components","kind":"sim","t":962,"v":0.00035},{"comp":"All components","kind":"sim","t":969,"v":0.00034},{"comp":"All components","kind":"sim","t":976,"v":0.00037},{"comp":"All components","kind":"sim","t":982,"v":0.00036},{"comp":"All components","kind":"sim","t":990,"v":0.00033},{"comp":"All components","kind":"sim","t":1003,"v":0.00032},{"comp":"All components","kind":"sim","t":1016,"v":0.00031},{"comp":"All components","kind":"sim","t":1030,"v":0.00029},{"comp":"All components","kind":"sim","t":1049,"v":0.00027},{"comp":"All components","kind":"sim","t":1063,"v":0.000285},{"comp":"All components","kind":"sim","t":1076,"v":0.000275},{"comp":"All components","kind":"sim","t":1090,"v":0.00026},{"comp":"All components","kind":"sim","t":1110,"v":0.00024},{"comp":"All components","kind":"sim","t":1130,"v":0.00022},{"comp":"All components","kind":"sim","t":1150,"v":0.00021},{"comp":"All components","kind":"sim","t":1175,"v":0.00018},{"comp":"All components","kind":"sim","t":1200,"v":0.00015},{"comp":"All components","kind":"sim","t":1230,"v":0.000125},{"comp":"All components","kind":"sim","t":1257,"v":0.00014},{"comp":"All components","kind":"sim","t":1284,"v":0.000145},{"comp":"All components","kind":"sim","t":1310,"v":0.00014},{"comp":"All components","kind":"sim","t":1337,"v":0.000132},{"comp":"All components","kind":"sim","t":1360,"v":0.00014},{"comp":"All components","kind":"sim","t":1384,"v":0.000152},{"comp":"All components","kind":"sim","t":1400,"v":0.00014},{"comp":"All components","kind":"sim","t":1425,"v":0.000125},{"comp":"All components","kind":"sim","t":1451,"v":0.000113},{"comp":"All components","kind":"sim","t":1480,"v":0.000097},{"comp":"All components","kind":"sim","t":1518,"v":0.00008},{"comp":"All components","kind":"sim","t":1560,"v":0.000068},{"comp":"All components","kind":"sim","t":1619,"v":0.000057},{"comp":"All components","kind":"sim","t":1686,"v":0.00005},{"comp":"All components","kind":"sim","t":1730,"v":0.000055},{"comp":"All components","kind":"sim","t":1773,"v":0.00006},{"comp":"All components","kind":"sim","t":1800,"v":0.000058},{"comp":"All components","kind":"sim","t":1840,"v":0.00005},{"comp":"All components","kind":"sim","t":1887,"v":0.000041},{"comp":"All components","kind":"sim","t":1953,"v":0.000035},{"comp":"All components","kind":"sim","t":2000,"v":0.00003},{"comp":"All components","kind":"sim","t":2122,"v":0.0000215},{"comp":"All components","kind":"sim","t":2300,"v":0.000015},{"comp":"All components","kind":"sim","t":2455,"v":0.0000117},{"comp":"All components","kind":"sim","t":2600,"v":0.000009},{"comp":"All components","kind":"sim","t":2805,"v":0.000006},{"comp":"All components","kind":"sim","t":3000,"v":0.000004},
{"comp":"All components","kind":"model","t":0,"v":0},{"comp":"All components","kind":"model","t":40,"v":0},{"comp":"All components","kind":"model","t":60,"v":0.00001},{"comp":"All components","kind":"model","t":70,"v":0.00003},{"comp":"All components","kind":"model","t":80,"v":0.00006},{"comp":"All components","kind":"model","t":90,"v":0.0001},{"comp":"All components","kind":"model","t":100,"v":0.00016},{"comp":"All components","kind":"model","t":110,"v":0.00024},{"comp":"All components","kind":"model","t":120,"v":0.00032},{"comp":"All components","kind":"model","t":130,"v":0.00043},{"comp":"All components","kind":"model","t":140,"v":0.00055},{"comp":"All components","kind":"model","t":150,"v":0.00066},{"comp":"All components","kind":"model","t":160,"v":0.0008},{"comp":"All components","kind":"model","t":170,"v":0.00092},{"comp":"All components","kind":"model","t":180,"v":0.00101},{"comp":"All components","kind":"model","t":190,"v":0.00108},{"comp":"All components","kind":"model","t":200,"v":0.00115},{"comp":"All components","kind":"model","t":225,"v":0.00128},{"comp":"All components","kind":"model","t":250,"v":0.00139},{"comp":"All components","kind":"model","t":273,"v":0.00146},{"comp":"All components","kind":"model","t":290,"v":0.0015},{"comp":"All components","kind":"model","t":310,"v":0.00153},{"comp":"All components","kind":"model","t":330,"v":0.00155},{"comp":"All components","kind":"model","t":350,"v":0.00156},{"comp":"All components","kind":"model","t":370,"v":0.00156},{"comp":"All components","kind":"model","t":390,"v":0.00155},{"comp":"All components","kind":"model","t":410,"v":0.00152},{"comp":"All components","kind":"model","t":430,"v":0.00149},{"comp":"All components","kind":"model","t":450,"v":0.00145},{"comp":"All components","kind":"model","t":470,"v":0.0014},{"comp":"All components","kind":"model","t":500,"v":0.00132},{"comp":"All components","kind":"model","t":530,"v":0.00124},{"comp":"All components","kind":"model","t":560,"v":0.00115},{"comp":"All components","kind":"model","t":600,"v":0.00105},{"comp":"All components","kind":"model","t":635,"v":0.00095},{"comp":"All components","kind":"model","t":670,"v":0.00084},{"comp":"All components","kind":"model","t":700,"v":0.00076},{"comp":"All components","kind":"model","t":735,"v":0.00069},{"comp":"All components","kind":"model","t":770,"v":0.00063},{"comp":"All components","kind":"model","t":800,"v":0.00058},{"comp":"All components","kind":"model","t":835,"v":0.00052},{"comp":"All components","kind":"model","t":870,"v":0.00047},{"comp":"All components","kind":"model","t":900,"v":0.00043},{"comp":"All components","kind":"model","t":935,"v":0.00039},{"comp":"All components","kind":"model","t":970,"v":0.00035},{"comp":"All components","kind":"model","t":1000,"v":0.00032},{"comp":"All components","kind":"model","t":1050,"v":0.00028},{"comp":"All components","kind":"model","t":1100,"v":0.00024},{"comp":"All components","kind":"model","t":1150,"v":0.00021},{"comp":"All components","kind":"model","t":1200,"v":0.00018},{"comp":"All components","kind":"model","t":1250,"v":0.000155},{"comp":"All components","kind":"model","t":1300,"v":0.000138},{"comp":"All components","kind":"model","t":1350,"v":0.00012},{"comp":"All components","kind":"model","t":1400,"v":0.0001},{"comp":"All components","kind":"model","t":1450,"v":0.000085},{"comp":"All components","kind":"model","t":1500,"v":0.000072},{"comp":"All components","kind":"model","t":1550,"v":0.00006},{"comp":"All components","kind":"model","t":1600,"v":0.000052},{"comp":"All components","kind":"model","t":1700,"v":0.00004},{"comp":"All components","kind":"model","t":1800,"v":0.00003},{"comp":"All components","kind":"model","t":1900,"v":0.000022},{"comp":"All components","kind":"model","t":2000,"v":0.000017},{"comp":"All components","kind":"model","t":2200,"v":0.000011},{"comp":"All components","kind":"model","t":2400,"v":0.000008},{"comp":"All components","kind":"model","t":2600,"v":0.000006},{"comp":"All components","kind":"model","t":2800,"v":0.000005},{"comp":"All components","kind":"model","t":3000,"v":0.000004}
]
},
"layer": [
  {
    "data": {"name": "curves"},
    "transform": [{"filter": "datum.kind == 'sim'"}],
    "mark": {"type": "line", "strokeWidth": 3, "clip": true},
    "encoding": {
      "x": {"field": "t", "type": "quantitative",
        "scale": {"domain": [0, 3000], "nice": false, "zero": false},
        "axis": {"orient": "bottom", "values": [0, 1000, 2000, 3000], "format": "d", "ticks": false, "tickSize": 0, "domain": false,
          "labelFont": "Liberation Sans", "labelFontWeight": "bold", "labelFontSize": 46, "labelPadding": 10, "labelColor": "#000", "labelFlush": false, "labelOverlap": false,
          "title": "t [ns]", "titleAnchor": "end", "titleFont": "Liberation Sans", "titleFontWeight": "bold", "titleFontSize": 54, "titlePadding": 20, "titleColor": "#000"}},
      "y": {"field": "v", "type": "quantitative",
        "scale": {"domain": [0, 0.00204], "nice": false, "zero": false},
        "axis": {"orient": "left", "values": [0, 0.0002, 0.0004, 0.0006, 0.0008, 0.001, 0.0012, 0.0014, 0.0016, 0.0018, 0.002], "format": "~g", "ticks": false, "tickSize": 0, "domain": false,
          "labelFont": "DejaVu Sans", "labelFontWeight": "bold", "labelFontSize": 36, "labelPadding": 14, "labelColor": "#000", "labelOverlap": false, "labelFlush": false,
          "title": "dS/dt", "titleAnchor": "end", "titleFont": "Liberation Sans", "titleFontWeight": "bold", "titleFontSize": 61, "titlePadding": 0, "titleColor": "#000"}},
      "color": {"field": "comp", "type": "nominal",
        "scale": {"domain": ["Muon", "EM pure", "EM muon", "EM hadron", "All components"], "range": ["#e64a2e", "#0a4cff", "#ffe92a", "#66e020", "#000000"]},
        "legend": {"orient": "none", "legendX": 958, "legendY": 4, "direction": "vertical", "title": null,
          "symbolType": "stroke", "symbolSize": 8281, "symbolStrokeWidth": 4, "symbolOpacity": 0.7, "symbolDash": [],
          "labelFont": "Liberation Sans", "labelFontWeight": "bold", "labelFontSize": 42, "labelColor": "#000", "labelLimit": 800,
          "fillColor": "#efefef", "strokeColor": "#333", "padding": 8, "clipHeight": 40, "rowPadding": 13,
          "symbolOffset": 13, "labelOffset": 17,
          "encode": {"entries": {"update": {"width": {"value": 519}}}}}}
    }
  },
  {
    "data": {"name": "curves"},
    "transform": [{"filter": "datum.kind == 'model'"}],
    "mark": {"type": "line", "strokeWidth": 7, "strokeDash": [0.5, 13], "strokeCap": "round", "clip": true},
    "encoding": {
      "x": {"field": "t", "type": "quantitative",
        "scale": {"domain": [0, 3000], "nice": false, "zero": false},
        "axis": {"orient": "bottom", "values": [0, 1000, 2000, 3000], "labels": false, "domain": false, "ticks": true, "tickSize": -28, "tickWidth": 2.5, "tickColor": "#333", "title": null}},
      "y": {"field": "v", "type": "quantitative",
        "scale": {"domain": [0, 0.00204], "nice": false, "zero": false},
        "axis": {"orient": "left", "values": [0, 0.0002, 0.0004, 0.0006, 0.0008, 0.001, 0.0012, 0.0014, 0.0016, 0.0018, 0.002], "labels": false, "domain": false, "ticks": true, "tickSize": -48, "tickWidth": 2.5, "tickColor": "#333", "title": null}},
      "color": {"field": "comp", "type": "nominal", "legend": null}
    }
  },
  {
    "data": {"name": "notes"},
    "mark": {"type": "text", "align": "left", "baseline": "alphabetic", "font": "Liberation Sans", "fontWeight": "bold", "fontSize": 51, "color": "#000"},
    "encoding": {
      "x": {"field": "t", "type": "quantitative",
        "scale": {"domain": [0, 3000], "nice": false, "zero": false},
        "axis": {"orient": "bottom", "values": [200, 400, 600, 800, 1200, 1400, 1600, 1800, 2200, 2400, 2600, 2800], "labels": false, "domain": false, "ticks": true, "tickSize": -14, "tickWidth": 2.5, "tickColor": "#333", "title": null}},
      "y": {"field": "v", "type": "quantitative",
        "scale": {"domain": [0, 0.00204], "nice": false, "zero": false},
        "axis": {"orient": "left", "values": [0.00005, 0.0001, 0.00015, 0.00025, 0.0003, 0.00035, 0.00045, 0.0005, 0.00055, 0.00065, 0.0007, 0.00075, 0.00085, 0.0009, 0.00095, 0.00105, 0.0011, 0.00115, 0.00125, 0.0013, 0.00135, 0.00145, 0.0015, 0.00155, 0.00165, 0.0017, 0.00175, 0.00185, 0.0019, 0.00195], "labels": false, "domain": false, "ticks": true, "tickSize": -25, "tickWidth": 2.5, "tickColor": "#333", "title": null}},
      "text": {"field": "label"}
    }
  }
],
"resolve": {"axis": {"x": "independent", "y": "independent"}}
}
